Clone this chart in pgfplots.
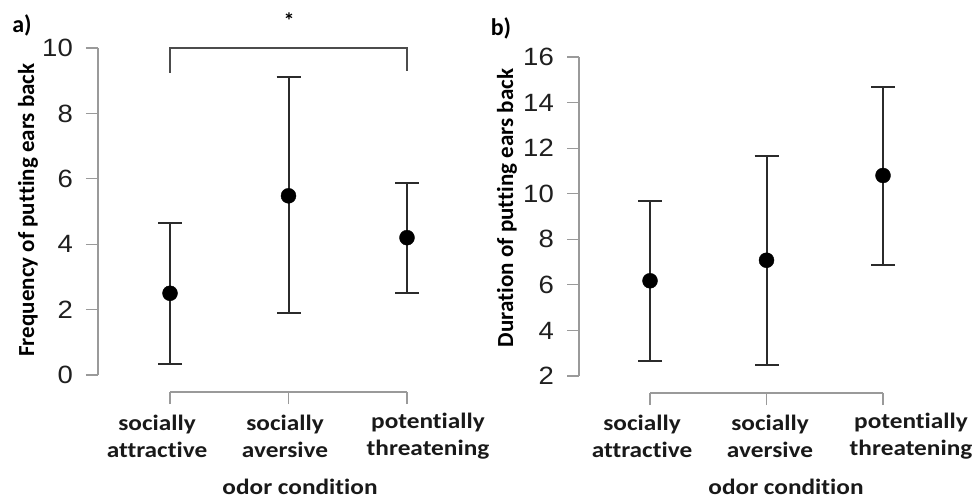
\documentclass[border=0pt]{standalone}
\usepackage{pgfplots}
\pgfplotsset{compat=1.18}
\usepackage{fontspec}
\setmainfont{Liberation Sans}
\newfontfamily\calb[FakeStretch=1.15, Ligatures=NoCommon]{Carlito}
\newfontfamily\calr[Ligatures=NoCommon]{Carlito}
\newfontfamily\tickfont[FakeStretch=1.1]{Liberation Sans}
\definecolor{axisgray}{HTML}{9A9A9A}
\definecolor{barcol}{HTML}{2B2B2B}
\pgfplotsset{
  rstyle/.style={
    scale only axis, clip=false,
    axis x line*=bottom, axis y line*=left,
    axis line style={-},
    tick align=outside, major tick length=12pt,
    x axis line style={draw=none},
    y axis line style={draw=axisgray, line width=1.1pt},
    xtick style={draw=axisgray, line width=1.1pt, yshift=-17pt},
    ytick style={draw=axisgray, line width=1.1pt},
    yticklabel style={font=\tickfont\fontsize{25}{25}\selectfont, text=black!88, inner xsep=0pt, anchor=east, xshift=-13pt},
    /pgf/number format/assume math mode=true,
    xtick={1,2,3}, xticklabels={},
    xmax=3,
  },
  ptstyle/.style={only marks, mark=*, mark size=7.5pt,
    mark options={fill=black, draw=black},
    error bars/.cd, y dir=both, y explicit,
    error bar style={draw=barcol, line width=2pt},
    error mark options={rotate=90, mark size=12pt, draw=barcol, line width=2pt}},
}
\begin{document}
\begin{tikzpicture}[x=1pt,y=1pt]
\path[use as bounding box] (0,0) rectangle (979,499);

% Panel a
\begin{axis}[rstyle, at={(98pt,124pt)}, anchor=south west,
  width=309pt, height=327pt, xmin=0.3924, ymin=0, ymax=10, ytick={0,2,4,6,8,10}]
\addplot+[ptstyle] table[x=x, y=y, y error plus=ep, y error minus=em] {
x y ep em
1 2.50 2.15 2.16
2 5.48 3.62 3.58
3 4.20 1.68 1.68
};
\draw[draw=axisgray, line width=1.1pt] ([yshift=-17pt]axis cs:1,0) -- ([yshift=-17pt]axis cs:3,0);
\draw[draw=black!70, line width=1.2pt] (axis cs:1,9.25) -- (axis cs:1,10) -- (axis cs:3,10) -- (axis cs:3,9.3);
\end{axis}

% Panel b
\begin{axis}[rstyle, at={(579pt,123pt)}, anchor=south west,
  width=304pt, height=319pt, xmin=0.3906, ymin=2, ymax=16, ytick={2,4,6,8,10,12,14,16}]
\addplot+[ptstyle] table[x=x, y=y, y error plus=ep, y error minus=em] {
x y ep em
1 6.18 3.52 3.50
2 7.08 4.58 4.58
3 10.80 3.90 3.92
};
\draw[draw=axisgray, line width=1.1pt] ([yshift=-17pt]axis cs:1,2) -- ([yshift=-17pt]axis cs:3,2);
\end{axis}

% texts
\node[font=\calr\bfseries\fontsize{24}{24}\selectfont] at (22,474) {a)};
\node[font=\calr\bfseries\fontsize{24}{24}\selectfont] at (501,471) {b)};
\node[font=\calr\bfseries\fontsize{22}{22}\selectfont] at (289,478) {*};
\node[rotate=90, font=\calr\bfseries\fontsize{23}{23}\selectfont] at (28,289) {Frequency of putting ears back};
\node[rotate=90, font=\calr\bfseries\fontsize{23}{23}\selectfont] at (507,291) {Duration of putting ears back};

\begin{scope}[every node/.style={align=center, font=\calb\bfseries\fontsize{22}{27}\selectfont, text=black!90}]
\node at (157,62.5) {socially\\attractive};
\node at (285,62.5) {socially\\aversive};
\node at (428,62.5) {potentially\\threatening};
\node at (642,62.5) {socially\\attractive};
\node at (770,62.5) {socially\\aversive};
\node at (911,62.5) {potentially\\threatening};
\node at (300,12) {odor condition};
\node at (786,12) {odor condition};
\end{scope}
\end{tikzpicture}
\end{document}
